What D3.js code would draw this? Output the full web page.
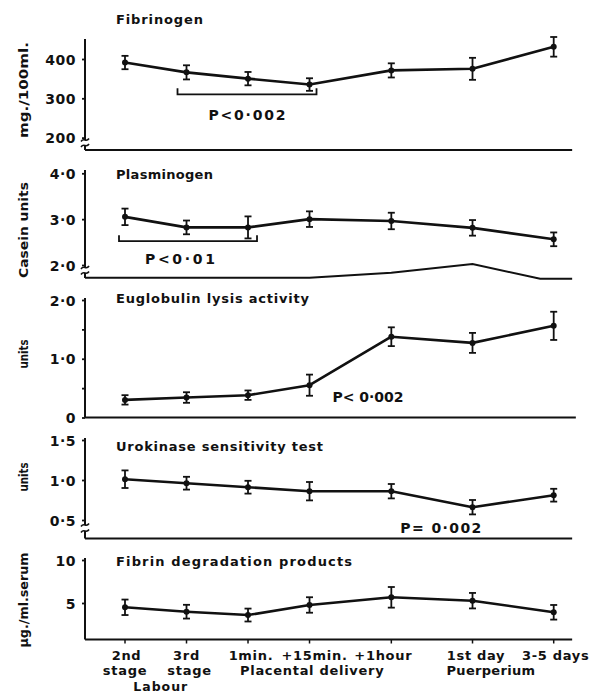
<!DOCTYPE html>
<html>
<head>
<meta charset="utf-8">
<script src="https://cdn.jsdelivr.net/npm/d3@7"></script>
<style>
  body { margin: 0; background: #fff; }
  svg text { font-family: "DejaVu Sans", sans-serif; font-weight: bold; fill: #111; }
</style>
</head>
<body>
<svg id="chart"></svg>
<script>
// time points (x positions are in "slot" units, later slots are spaced wider)
const timeRow1 = ['2nd', '3rd', '1min.', '+15min.', '+1hour', '1st day', '3-5 days'];
const timeRow2 = ['stage', 'stage', '', '', '', '', ''];
const xPositions = [0, 1, 2, 3, 4.33, 5.65, 6.97];

const fibrinogenMean = [391, 366, 350, 335, 371, 375, 431];
const fibrinogenErr = [17, 18, 17, 16, 18, 28, 25];
const fibrinogenTicks = [200, 300, 400];
const fibrinogenTickLabels = ['200', '300', '400'];

const plasminogenMean = [3.05, 2.82, 2.82, 3.0, 2.96, 2.81, 2.56];
const plasminogenErr = [0.18, 0.15, 0.24, 0.17, 0.18, 0.17, 0.15];
const plasminogenTicks = [2, 3, 4];
const plasminogenTickLabels = ['2·0', '3·0', '4·0'];
// the stray baseline under the plasminogen panel, [slot, casein units]
const plasminogenBaseline = [[-0.65, 1.72], [3, 1.72], [4.33, 1.83], [5.65, 2.02], [6.75, 1.70], [7.27, 1.70]];

const euglobulinMean = [0.30, 0.34, 0.38, 0.55, 1.375, 1.27, 1.56];
const euglobulinErr = [0.08, 0.09, 0.08, 0.18, 0.16, 0.17, 0.24];
const euglobulinTicks = [0, 0.5, 1, 1.5, 2];
const euglobulinTickLabels = ['0', '', '1·0', '', '2·0'];

const urokinaseMean = [1.01, 0.96, 0.91, 0.86, 0.86, 0.66, 0.81];
const urokinaseErr = [0.11, 0.08, 0.08, 0.115, 0.09, 0.09, 0.08];
const urokinaseTicks = [0.5, 1, 1.5];
const urokinaseTickLabels = ['0·5', '1·0', '1·5'];

const fdpMean = [4.5, 3.99, 3.6, 4.77, 5.66, 5.27, 3.92];
const fdpErr = [0.9, 0.8, 0.75, 0.9, 1.2, 0.9, 0.85];
const fdpTicks = [5, 10];
const fdpTickLabels = ['5', '10'];

const W = 605, H = 695;
const svg = d3.select('#chart').attr('width', W).attr('height', H);
svg.append('rect').attr('width', W).attr('height', H).attr('fill', '#fff');

const x = d3.scaleLinear().domain([0, 6.97]).range([125, 553.7]);
const xStart = -0.65, xEnd = 7.27;
const x0 = x(xStart);
const ink = '#111';

const panels = [
  { title: 'Fibrinogen', titleY: 23.5, titleLen: 87, ylabel: 'mg./100ml.', ylabelY: 90, ylabelLen: 96,
    mean: fibrinogenMean, err: fibrinogenErr, ticks: fibrinogenTicks, tickLabels: fibrinogenTickLabels,
    domain: [200, 400], range: [137.6, 59], axisTop: 39, baseY: 150, breaks: [140, 145.5],
    bracket: { from: 1, to: 3, padL: 9, padR: 7, at: 310, label: 'P<0·002', dy: 26, len: 77 } },
  { title: 'Plasminogen', titleY: 178.5, titleLen: 97, ylabel: 'Casein units', ylabelY: 230, ylabelLen: 96,
    mean: plasminogenMean, err: plasminogenErr, ticks: plasminogenTicks, tickLabels: plasminogenTickLabels,
    domain: [2, 4], range: [265, 173.3], axisTop: 170, baseY: 278, breaks: [267.5, 273], baseline: plasminogenBaseline,
    bracket: { from: 0, to: 2, padL: 6, padR: 9, at: 2.52, label: 'P<0·01', dy: 22.5, len: 70, startX: 145 } },
  { title: 'Euglobulin lysis activity', titleY: 302.5, titleLen: 193, ylabel: 'units', ylabelY: 354, ylabelLen: 29,
    mean: euglobulinMean, err: euglobulinErr, ticks: euglobulinTicks, tickLabels: euglobulinTickLabels,
    domain: [0, 2], range: [417.5, 300], axisTop: 298, baseY: 417.5, xEnd: 7.33,
    note: { text: 'P< 0·002', at: 3, dx: 23, val: 0.27, len: 71 } },
  { title: 'Urokinase sensitivity test', titleY: 450.5, titleLen: 207, ylabel: 'units', ylabelY: 477, ylabelLen: 29,
    mean: urokinaseMean, err: urokinaseErr, ticks: urokinaseTicks, tickLabels: urokinaseTickLabels,
    domain: [0.5, 1.5], range: [520, 440], axisTop: 438, baseY: 538.5, breaks: [525, 531],
    note: { text: 'P= 0·002', at: 4.33, dx: 9, val: 0.34, len: 81 } },
  { title: 'Fibrin degradation products', titleY: 565.5, titleLen: 236, ylabel: 'µg./ml.serum', ylabelY: 600, ylabelLen: 95,
    mean: fdpMean, err: fdpErr, ticks: fdpTicks, tickLabels: fdpTickLabels,
    domain: [5, 10], range: [603, 560], axisTop: 558, baseY: 639.5, xTicks: true }
];

panels.forEach(p => {
  const y = d3.scaleLinear().domain(p.domain).range(p.range);
  const g = svg.append('g');

  // y axis
  g.append('line')
    .attr('x1', x0).attr('x2', x0)
    .attr('y1', p.axisTop).attr('y2', p.baseY)
    .attr('stroke', ink).attr('stroke-width', 2);

  const axis = d3.axisLeft(y)
    .tickValues(p.ticks)
    .tickFormat((d, i) => p.tickLabels[i])
    .tickSize(3).tickPadding(6);
  const axg = g.append('g')
    .attr('transform', `translate(${x0},0)`)
    .call(axis)
    .attr('font-size', 14)
    .attr('font-family', '"DejaVu Sans", sans-serif')
    .attr('color', ink);
  axg.select('.domain').remove();
  axg.selectAll('line').attr('stroke-width', 1.8);
  axg.selectAll('text').attr('dy', '0.36em').attr('letter-spacing', 0.5);

  // axis break
  if (p.breaks) {
    g.append('rect')
      .attr('x', x0 - 3).attr('y', p.breaks[0]).attr('width', 6).attr('height', p.breaks[1] - p.breaks[0])
      .attr('fill', '#fff');
    p.breaks.forEach(b => {
      g.append('path')
        .attr('d', `M${x0 - 4},${b + 1.5} C${x0 - 1},${b - 3} ${x0 + 1},${b + 3} ${x0 + 4},${b - 1.5}`)
        .attr('fill', 'none').attr('stroke', ink).attr('stroke-width', 1.6);
    });
  }

  // x axis (baseline)
  if (p.baseline) {
    g.append('path')
      .attr('d', d3.line().x(d => x(d[0])).y(d => y(d[1]))(p.baseline))
      .attr('fill', 'none').attr('stroke', ink).attr('stroke-width', 2);
  } else {
    g.append('line')
      .attr('x1', x0).attr('x2', x(p.xEnd || xEnd))
      .attr('y1', p.baseY).attr('y2', p.baseY)
      .attr('stroke', ink).attr('stroke-width', 2);
  }
  if (p.xTicks) {
    g.selectAll('.xtick').data(xPositions).enter().append('line')
      .attr('x1', d => x(d)).attr('x2', d => x(d))
      .attr('y1', p.baseY).attr('y2', p.baseY + 4)
      .attr('stroke', ink).attr('stroke-width', 1.5);
  }

  // error bars
  const eb = g.append('g').selectAll('g')
    .data(p.mean.map((m, i) => ({ m, e: p.err[i], xp: xPositions[i] })))
    .enter().append('g');
  eb.append('line')
    .attr('x1', d => x(d.xp)).attr('x2', d => x(d.xp))
    .attr('y1', d => y(d.m + d.e)).attr('y2', d => y(d.m - d.e))
    .attr('stroke', ink).attr('stroke-width', 1.8);
  [1, -1].forEach(s => {
    eb.append('line')
      .attr('x1', d => x(d.xp) - 3.5).attr('x2', d => x(d.xp) + 3.5)
      .attr('y1', d => y(d.m + s * d.e)).attr('y2', d => y(d.m + s * d.e))
      .attr('stroke', ink).attr('stroke-width', 1.8);
  });

  // mean line
  const line = d3.line().x((d, i) => x(xPositions[i])).y(d => y(d));
  g.append('path')
    .attr('d', line(p.mean))
    .attr('fill', 'none').attr('stroke', ink).attr('stroke-width', 2.6)
    .attr('stroke-linejoin', 'round');
  g.selectAll('.dot').data(p.mean).enter().append('circle')
    .attr('cx', (d, i) => x(xPositions[i])).attr('cy', d => y(d))
    .attr('r', 3).attr('fill', ink);

  // title
  g.append('text')
    .attr('x', 116).attr('y', p.titleY)
    .attr('font-size', 13)
    .attr('textLength', p.titleLen).attr('lengthAdjust', 'spacing')
    .text(p.title);

  // y label
  g.append('text')
    .attr('transform', `translate(28,${p.ylabelY}) rotate(-90)`)
    .attr('text-anchor', 'middle')
    .attr('font-size', 12)
    .attr('textLength', p.ylabelLen).attr('lengthAdjust', 'spacingAndGlyphs')
    .text(p.ylabel);

  // significance bracket
  if (p.bracket) {
    const b = p.bracket;
    const bx1 = x(xPositions[b.from]) - b.padL, bx2 = x(xPositions[b.to]) + b.padR, by = y(b.at);
    g.append('path')
      .attr('d', `M${bx1},${by - 6} L${bx1},${by} L${bx2},${by} L${bx2},${by - 6}`)
      .attr('fill', 'none').attr('stroke', ink).attr('stroke-width', 1.8);
    const t = g.append('text')
      .attr('y', by + b.dy)
      .attr('font-size', 14)
      .attr('textLength', b.len).attr('lengthAdjust', 'spacing')
      .text(b.label);
    if (b.startX) t.attr('x', b.startX);
    else t.attr('x', (bx1 + bx2) / 2).attr('text-anchor', 'middle');
  }
  if (p.note) {
    g.append('text')
      .attr('x', x(p.note.at) + p.note.dx).attr('y', y(p.note.val))
      .attr('font-size', 14)
      .attr('textLength', p.note.len).attr('lengthAdjust', 'spacing')
      .text(p.note.text);
  }
});

// time-point labels
const row1Shift = [1.5, 0, 3, 5, -8, 3.5, 2];
svg.append('g').selectAll('text').data(timeRow1).enter().append('text')
  .attr('x', (d, i) => x(xPositions[i]) + row1Shift[i]).attr('y', 660)
  .attr('text-anchor', 'middle').attr('font-size', 13).attr('letter-spacing', 0.7)
  .text(d => d);
svg.append('g').selectAll('text').data(timeRow2).enter().append('text')
  .attr('x', (d, i) => x(xPositions[i]) + (i === 1 ? 3 : 0)).attr('y', 675)
  .attr('text-anchor', 'middle').attr('font-size', 13).attr('letter-spacing', 0.7)
  .text(d => d);
svg.append('text')
  .attr('x', x(xPositions[2]) - 8).attr('y', 675)
  .attr('font-size', 13).attr('letter-spacing', 0.7)
  .text('Placental delivery');
svg.append('text')
  .attr('x', x(xPositions[5]) - 26).attr('y', 675)
  .attr('font-size', 13).attr('letter-spacing', 0.3)
  .text('Puerperium');
svg.append('text')
  .attr('x', (x(xPositions[0]) + x(xPositions[1])) / 2 + 5).attr('y', 690.5)
  .attr('text-anchor', 'middle').attr('font-size', 12.5).attr('letter-spacing', 1)
  .text('Labour');
</script>
</body>
</html>
